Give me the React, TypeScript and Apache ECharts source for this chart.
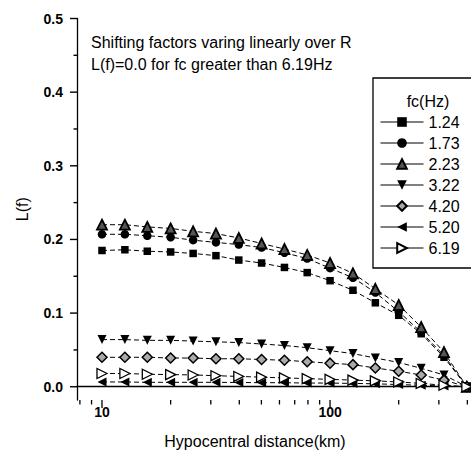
import React, { useEffect, useRef } from 'react';
import * as echarts from 'echarts';

// Hypocentral distance (km)
const distances = [10, 12.6, 15.8, 20, 25.1, 31.6, 39.8, 50.1, 63.1, 79.4, 100, 126, 158, 200, 251, 316, 398];

const fcLabels = ['1.24', '1.73', '2.23', '3.22', '4.20', '5.20', '6.19'];

const L_124 = [0.185, 0.186, 0.184, 0.183, 0.181, 0.178, 0.172, 0.168, 0.162, 0.155, 0.144, 0.131, 0.114, 0.097, 0.072, 0.040, 0];
const L_173 = [0.207, 0.207, 0.205, 0.203, 0.199, 0.196, 0.193, 0.189, 0.182, 0.174, 0.161, 0.148, 0.128, 0.102, 0.074, 0.0425, 0];
const L_223 = [0.220, 0.220, 0.217, 0.215, 0.211, 0.208, 0.202, 0.1945, 0.187, 0.179, 0.168, 0.154, 0.133, 0.111, 0.081, 0.047, 0];
const L_322 = [0.064, 0.064, 0.063, 0.063, 0.062, 0.061, 0.060, 0.058, 0.056, 0.053, 0.049, 0.045, 0.039, 0.033, 0.025, 0.016, 0];
const L_420 = [0.040, 0.040, 0.040, 0.039, 0.039, 0.038, 0.038, 0.037, 0.036, 0.034, 0.032, 0.030, 0.0255, 0.021, 0.016, 0.009, 0];
const L_520 = [0.0065, 0.0065, 0.006, 0.006, 0.006, 0.006, 0.0058, 0.0055, 0.0055, 0.005, 0.005, 0.0045, 0.004, 0.003, 0.002, 0.001, 0];
const L_619 = [0.018, 0.018, 0.017, 0.0165, 0.016, 0.015, 0.014, 0.013, 0.012, 0.011, 0.010, 0.009, 0.008, 0.0065, 0.0045, 0.002, 0];

const seriesValues = [L_124, L_173, L_223, L_322, L_420, L_520, L_619];

const yTickLabels = [0, 0.1, 0.2, 0.3, 0.4, 0.5];
const yMinorTicks = [0.05, 0.15, 0.25, 0.35, 0.45];
const xTickLabels = [10, 100];
const xMinorTicks = [8, 9, 20, 30, 40, 50, 60, 70, 80, 90, 200, 300, 400];

const X_MIN = 7.77;
const X_MAX = 415;
const Y_MIN = -0.018;
const Y_MAX = 0.5;

const annotationLines = [
  'Shifting factors varing linearly over R',
  'L(f)=0.0 for fc greater than 6.19Hz',
];

const FONT = '"Liberation Sans", Arial, sans-serif';

// marker styles per series
const markers = [
  { symbol: 'rect', size: 7.5, rotate: 0, fill: '#000', bw: 0 },
  { symbol: 'circle', size: 8.5, rotate: 0, fill: '#000', bw: 0 },
  { symbol: 'triangle', size: 10, rotate: 0, fill: '#555', bw: 1.8 },
  { symbol: 'triangle', size: 9, rotate: 180, fill: '#000', bw: 0 },
  { symbol: 'diamond', size: 10, rotate: 0, fill: '#aaa', bw: 1.5 },
  { symbol: 'triangle', size: 9, rotate: 90, fill: '#000', bw: 0 },
  { symbol: 'triangle', size: 10, rotate: -90, fill: '#fff', bw: 1.3 },
];

export default function App() {
  const ref = useRef<HTMLDivElement>(null);

  useEffect(() => {
    document.body.style.margin = '0';
    const chart = echarts.init(ref.current!, undefined, { renderer: 'svg' });

    const series: any[] = fcLabels.map((name, si) => {
      const m = markers[si];
      return {
        name,
        type: 'line',
        data: distances.map((d, i) => [d, seriesValues[si][i]]),
        symbol: m.symbol,
        symbolSize: m.size,
        symbolRotate: m.rotate,
        showAllSymbol: true,
        lineStyle: { color: '#000', width: 1, type: [5, 3] },
        itemStyle: { color: m.fill, borderColor: '#000', borderWidth: m.bw },
        emphasis: { disabled: true },
        z: 3,
      };
    });

    // axis ticks drawn through the axes' own scales
    const yTickData = [
      ...yTickLabels.map((v) => [X_MIN, v, 7]),
      ...yMinorTicks.map((v) => [X_MIN, v, 3.5]),
    ];
    const xTickData = [
      ...xTickLabels.map((v) => [v, Y_MIN, 8]),
      ...xMinorTicks.map((v) => [v, Y_MIN, 4.5]),
    ];

    series.push({
      name: 'yTicks',
      type: 'custom',
      clip: false,
      silent: true,
      data: yTickData,
      renderItem: (params: any, api: any) => {
        const p = api.coord([api.value(0), api.value(1)]);
        const len = api.value(2);
        return {
          type: 'line',
          shape: { x1: p[0] - len, y1: p[1], x2: p[0], y2: p[1] },
          style: { stroke: '#000', lineWidth: 1.4 },
        };
      },
      z: 5,
    });
    series.push({
      name: 'xTicks',
      type: 'custom',
      clip: false,
      silent: true,
      data: xTickData,
      renderItem: (params: any, api: any) => {
        const p = api.coord([api.value(0), api.value(1)]);
        const len = api.value(2);
        return {
          type: 'line',
          shape: { x1: p[0], y1: p[1], x2: p[0], y2: p[1] + len },
          style: { stroke: '#000', lineWidth: 1.3 },
        };
      },
      z: 5,
    });

    const axisText = { color: '#000', fontFamily: FONT, fontWeight: 'bold', fontSize: 14 };

    chart.setOption({
      animation: false,
      backgroundColor: '#fff',
      grid: { left: 77, right: 0, top: 18.5, bottom: 68, containLabel: false, outerBoundsMode: 'none' },
      xAxis: {
        type: 'log',
        logBase: 10,
        min: X_MIN,
        max: X_MAX,
        axisLine: { show: true, lineStyle: { color: '#000', width: 1.3 } },
        axisTick: { show: false },
        axisLabel: { show: true, customValues: xTickLabels, formatter: (v: number) => String(Math.round(v)), margin: 5, ...axisText },
        splitLine: { show: false },
        minorTick: { show: false },
      },
      yAxis: {
        type: 'value',
        min: Y_MIN,
        max: Y_MAX,
        name: 'L(f)',
        nameLocation: 'middle',
        nameGap: 47,
        nameTextStyle: { color: '#000', fontFamily: FONT, fontSize: 16 },
        axisLine: { show: true, lineStyle: { color: '#000', width: 1.3 } },
        axisTick: { show: false },
        axisLabel: { show: true, customValues: yTickLabels, formatter: (v: number) => v.toFixed(1), margin: 14, ...axisText },
        splitLine: { show: false },
      },
      legend: {
        show: true,
        orient: 'vertical',
        left: 380,
        top: 114,
        padding: 0,
        itemWidth: 43,
        itemHeight: 12,
        itemGap: 5,
        data: fcLabels,
        lineStyle: { type: 'solid', width: 1, color: '#000' },
        textStyle: { color: '#000', fontFamily: FONT, fontSize: 16, lineHeight: 16 },
        selectedMode: false,
      },
      graphic: [
        {
          type: 'rect',
          shape: { x: 373, y: 78, width: 110, height: 190 },
          style: { fill: 'none', stroke: '#000', lineWidth: 1.3 },
          z: 10,
        },
        {
          type: 'text',
          x: 428,
          y: 101,
          style: { text: 'fc(Hz)', fill: '#000', font: `16px ${FONT}`, textAlign: 'center', textVerticalAlign: 'middle' },
          z: 10,
        },
        ...annotationLines.map((t, i) => ({
          type: 'text',
          x: 91,
          y: 42 + i * 22,
          style: { text: t, fill: '#000', font: `16px ${FONT}`, textAlign: 'left', textVerticalAlign: 'middle' },
          z: 10,
        })),
        {
          type: 'text',
          x: 255,
          y: 441,
          style: { text: 'Hypocentral distance(km)', fill: '#000', font: `16px ${FONT}`, textAlign: 'center', textVerticalAlign: 'middle' },
          z: 10,
        },
      ],
      series,
    });

    return () => chart.dispose();
  }, []);

  return <div ref={ref} style={{ width: 471, height: 468 }} />;
}
